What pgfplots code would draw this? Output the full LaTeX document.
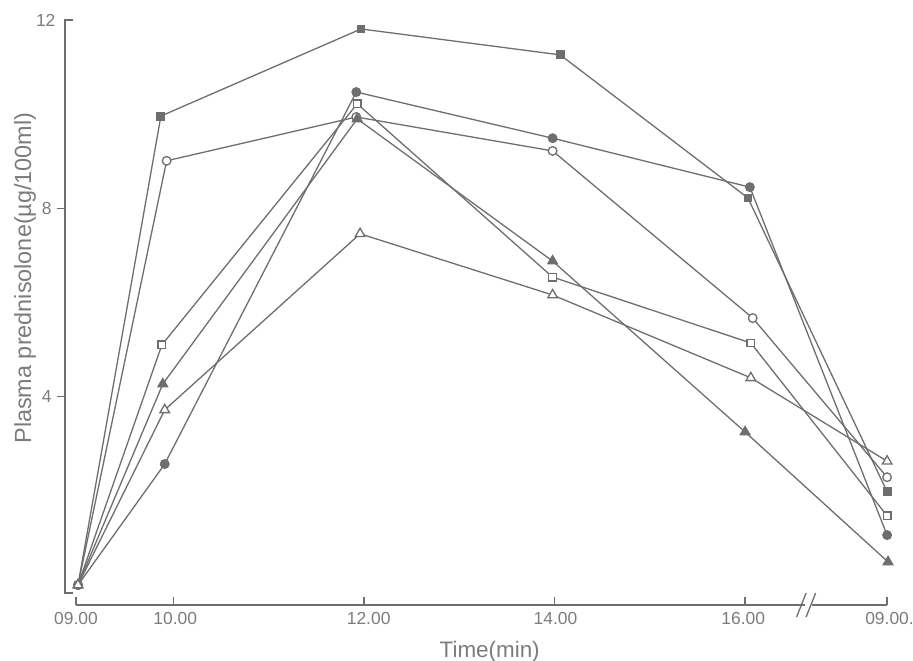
\documentclass[border=0pt]{standalone}
\usepackage{fontspec}
\setmainfont{Liberation Sans}
\usepackage{pgfplots}
\pgfplotsset{compat=1.18}
\definecolor{ink}{HTML}{6E6E6E}
\definecolor{txt}{HTML}{7C7C7C}
\begin{document}
\begin{tikzpicture}
\begin{axis}[
  at={(0,0)}, anchor=south west,
  scale only axis, width=872bp, height=626.2bp,
  xmin=8.6, xmax=17.75, ymin=-1, ymax=12.3,
  hide axis, clip=false,
  every axis plot/.append style={color=ink, line width=1.3bp},
]
% filled square
\addplot[mark=square*, mark size=3.8bp, mark options={fill=ink}] coordinates {
 (9,0) (9.87,9.96) (11.97,11.81) (14.06,11.26) (16.03,8.22) (17.49,1.98)};
% open circle
\addplot[mark=*, mark size=4.3bp, mark options={fill=white}] coordinates {
 (9,0) (9.93,9.01) (11.92,9.94) (13.98,9.22) (16.08,5.67) (17.49,2.29)};
% filled circle
\addplot[mark=*, mark size=4.3bp, mark options={fill=ink}] coordinates {
 (9,0) (9.91,2.57) (11.92,10.47) (13.98,9.49) (16.05,8.45) (17.49,1.06)};
% open square
\addplot[mark=square*, mark size=3.8bp, mark options={fill=white}] coordinates {
 (9,0) (9.88,5.10) (11.93,10.22) (13.98,6.54) (16.06,5.14) (17.49,1.47)};
% filled triangle
\addplot[mark=triangle*, mark size=5.5bp, mark options={fill=ink}] coordinates {
 (9,0) (9.89,4.27) (11.93,9.90) (13.98,6.88) (16.0,3.25) (17.5,0.49)};
% open triangle
\addplot[mark=triangle*, mark size=5.5bp, mark options={fill=white}] coordinates {
 (9,0) (9.91,3.72) (11.96,7.46) (13.98,6.16) (16.06,4.40) (17.49,2.63)};

% y axis
\draw[ink, line width=1.3bp] (axis cs:8.95,12) -- (axis cs:8.864,12) -- (axis cs:8.864,-0.17) -- (axis cs:8.95,-0.17);
\draw[ink, line width=1.3bp] (axis cs:8.864,8) -- (axis cs:8.78,8);
\draw[ink, line width=1.3bp] (axis cs:8.864,4) -- (axis cs:8.78,4);
\node[txt, anchor=east, font=\fontsize{17.5}{18}\selectfont] at (axis cs:8.80,12) {12};
\node[txt, anchor=east, font=\fontsize{17.5}{18}\selectfont] at (axis cs:8.76,8) {8};
\node[txt, anchor=east, font=\fontsize{17.5}{18}\selectfont] at (axis cs:8.76,4) {4};
% x axis
\draw[ink, line width=1.3bp] (axis cs:8.979,-0.425) -- (axis cs:16.63,-0.425);
\draw[ink, line width=1.3bp] (axis cs:16.70,-0.425) -- (axis cs:17.49,-0.425);
\draw[ink, line width=1.3bp] (axis cs:16.54,-0.68) -- (axis cs:16.64,-0.17);
\draw[ink, line width=1.3bp] (axis cs:16.64,-0.68) -- (axis cs:16.74,-0.17);
\foreach \xx in {8.979,10,12,14,16,17.49} {
  \edef\tmp{\noexpand\draw[ink, line width=1.3bp] (axis cs:\xx,-0.425) -- (axis cs:\xx,-0.25);}
  \tmp
}
\node[txt, anchor=north, font=\fontsize{17.5}{18}\selectfont] at (axis cs:8.979,-0.5) {09.00};
\node[txt, anchor=north, font=\fontsize{17.5}{18}\selectfont] at (axis cs:10.02,-0.5) {10.00};
\node[txt, anchor=north, font=\fontsize{17.5}{18}\selectfont] at (axis cs:12.05,-0.5) {12.00};
\node[txt, anchor=north, font=\fontsize{17.5}{18}\selectfont] at (axis cs:14.01,-0.5) {14.00};
\node[txt, anchor=north, font=\fontsize{17.5}{18}\selectfont] at (axis cs:15.98,-0.5) {16.00};
\node[txt, anchor=north, font=\fontsize{17.5}{18}\selectfont] at (axis cs:17.49,-0.5) {09.00\rlap{.}};
% labels
\node[txt, rotate=90, font=\fontsize{23.5}{24}\selectfont] at (axis cs:8.444,6.52) {Plasma prednisolone(µg/100ml)};
\node[txt, font=\fontsize{22.5}{23}\selectfont] at (axis cs:13.32,-1.42) {Time(min)};
\end{axis}
\pgfresetboundingbox
\path[use as bounding box] (-39.88bp,-28.9bp) rectangle (873.12bp,632.1bp);
\end{tikzpicture}
\end{document}
